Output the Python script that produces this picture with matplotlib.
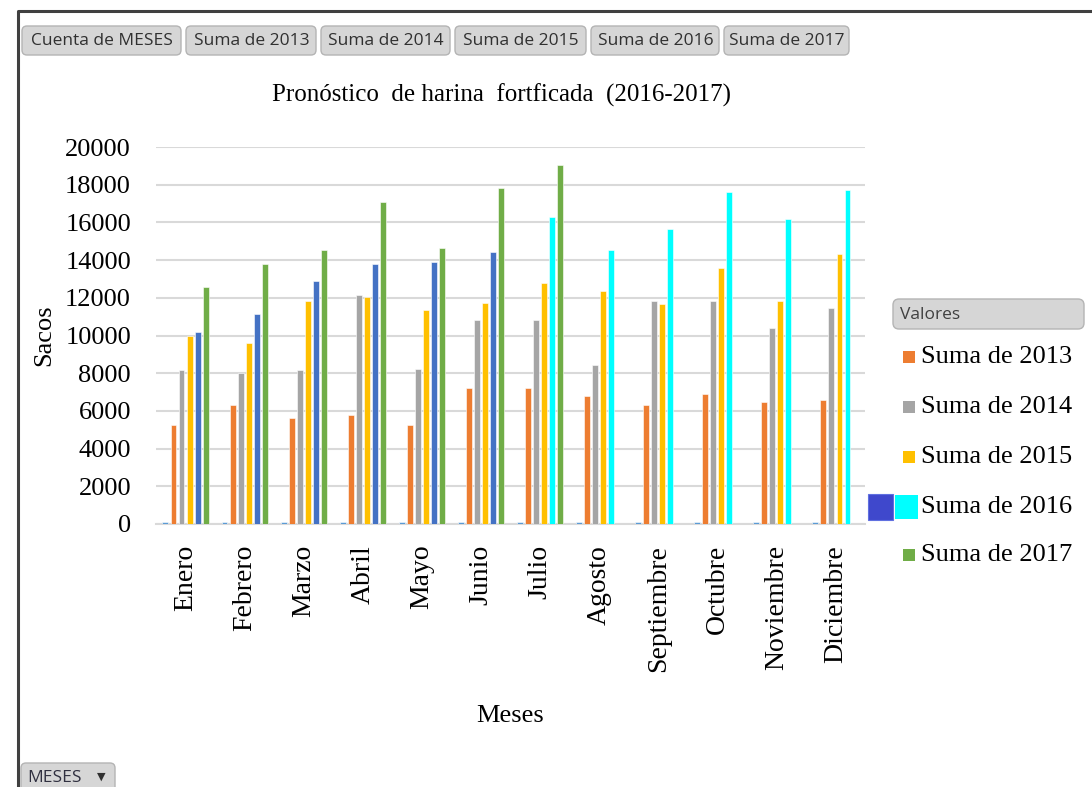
import numpy as np
import matplotlib
matplotlib.use('Agg')
import matplotlib.pyplot as plt
from matplotlib.patches import FancyBboxPatch, Rectangle

# datos
meses = ['Enero', 'Febrero', 'Marzo', 'Abril', 'Mayo', 'Junio', 'Julio',
         'Agosto', 'Septiembre', 'Octubre', 'Noviembre', 'Diciembre']
cuenta = [100] * 12
s2013 = [5250, 6300, 5600, 5780, 5250, 7230, 7230, 6810, 6300, 6910, 6490, 6590]
s2014 = [8150, 8030, 8150, 12170, 8240, 10820, 10820, 8450, 11850, 11850, 10410, 11440]
s2015 = [10000, 9590, 11850, 12040, 11340, 11740, 12790, 12360, 11650, 13600, 11850, 14310]
s2016 = [10200, 11140, 12880, 13810, 13900, 14410, 16270, 14520, 15650, 17600, 16160, 17700]
s2017 = [12560, 13810, 14520, 17100, 14620, 17810, 19040,
         np.nan, np.nan, np.nan, np.nan, np.nan]
botones = ['Cuenta de MESES', 'Suma de 2013', 'Suma de 2014',
           'Suma de 2015', 'Suma de 2016', 'Suma de 2017']
leyenda = ['Suma de 2013', 'Suma de 2014', 'Suma de 2015', 'Suma de 2016', 'Suma de 2017']

c_cuenta = '#5B9BD5'
c13, c14, c15, c16, c17 = '#ED7D31', '#A5A5A5', '#FFC000', '#4472C4', '#70AD47'
c16b = '#00FFFF'

W, H = 1092, 787
fig = plt.figure(figsize=(W / 100, H / 100), dpi=100)
serif = 'Liberation Serif'
sans = ['Open Sans', 'DejaVu Sans']

ax = fig.add_axes([156 / W, 1 - 524 / H, (865 - 156) / W, (524 - 147) / H])
x = np.arange(len(meses))
step = 0.136
width = 0.1
colores16 = [c16 if i < 6 else c16b for i in range(12)]
series = [(cuenta, c_cuenta), (s2013, c13), (s2014, c14), (s2015, c15),
          (s2016, colores16), (s2017, c17)]
for k, (vals, col) in enumerate(series):
    ax.bar(x + (k - 2.5) * step, vals, width=width, color=col,
           edgecolor='white', linewidth=0.4, zorder=3)

ax.set_xlim(-0.5, 11.5)
ax.set_ylim(0, 20000)
ax.set_yticks(range(0, 20001, 2000))
ax.grid(axis='y', color='#D9D9D9', linewidth=1.5, zorder=0)
for s in ['left', 'right', 'top']:
    ax.spines[s].set_visible(False)
ax.spines['bottom'].set_color('#D9D9D9')
ax.spines['bottom'].set_linewidth(1.5)
ax.set_xticks(x)
ax.set_xticklabels(meses, rotation=90, fontfamily=serif, fontsize=20, va='top')
ax.tick_params(axis='x', length=0, pad=15)
ax.tick_params(axis='y', length=0, pad=18, labelsize=19)
for t in ax.get_yticklabels():
    t.set_fontfamily(serif)

ax.set_ylabel('Sacos', fontfamily=serif, fontsize=19)
ax.yaxis.set_label_coords(-0.142, 0.5)
ax.set_xlabel('Meses', fontfamily=serif, fontsize=19)
ax.xaxis.set_label_coords(0.5, -0.48)

fig.text(502 / W, 1 - 95 / H, 'Pronóstico  de harina  fortficada  (2016-2017)',
         fontfamily=serif, fontsize=18, ha='center', va='center')

# capa en pixeles para botones, marco y leyenda
ov = fig.add_axes([0, 0, 1, 1], zorder=-1)
ov.set_xlim(0, W)
ov.set_ylim(H, 0)
ov.axis('off')
ov.patch.set_alpha(0)

ov.plot([18, 18, W], [H, 11, 11], color='#404040', lw=2.2)

bx = [20, 184, 319, 453, 589, 722, 852]
for i, txt in enumerate(botones):
    ov.add_patch(FancyBboxPatch((bx[i] + 2, 26), bx[i + 1] - bx[i] - 5, 29,
                                boxstyle='round,pad=0,rounding_size=5',
                                facecolor='#D6D6D6', edgecolor='#B4B4B4', lw=1))
    ov.text((bx[i] + bx[i + 1]) / 2, 41, txt, fontfamily=sans, fontsize=12.5,
            color='#303030', ha='center', va='center')

ov.add_patch(FancyBboxPatch((893, 299), 191, 30, boxstyle='round,pad=0,rounding_size=6',
                            facecolor='#D6D6D6', edgecolor='#B4B4B4', lw=1))
ov.text(900, 315, 'Valores', fontfamily=sans, fontsize=12.5, color='#404040', va='center')

filas = [357, 407, 457, 507, 555]
cols_ley = [c13, c14, c15, None, c17]
for y, txt, col in zip(filas, leyenda, cols_ley):
    if col is None:
        ov.add_patch(Rectangle((868, 494), 25, 26, facecolor='#3F48CC', edgecolor='#6070E0', lw=0.8))
        ov.add_patch(Rectangle((895, 495), 23, 24, facecolor=c16b, edgecolor='none'))
    else:
        ov.add_patch(Rectangle((903, y - 6), 12, 12, facecolor=col, edgecolor='none'))
    ov.text(921, y, txt, fontfamily=serif, fontsize=19, va='center')

ov.add_patch(FancyBboxPatch((21, 763), 94, 40, boxstyle='round,pad=0,rounding_size=5',
                            facecolor='#D6D6D6', edgecolor='#B4B4B4', lw=1))
ov.text(27, 778, 'MESES', fontfamily=sans, fontsize=12.5, color='#303040', va='center')
ov.text(101, 777, '▼', fontfamily='DejaVu Sans', fontsize=8, color='#303030',
        ha='center', va='center')

fig.savefig('out.png', dpi=100)
